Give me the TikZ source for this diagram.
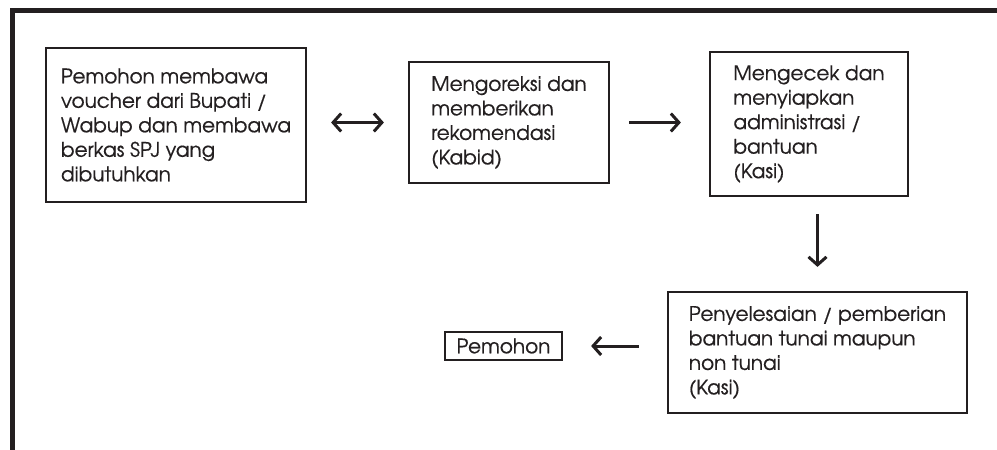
\documentclass[tikz,border=0pt]{standalone}
\usepackage{fontspec}
\setmainfont[FakeBold=0.5]{TeX Gyre Adventor}
\usetikzlibrary{arrows.meta}
\definecolor{ink}{HTML}{231F20}
\tikzset{ujung/.tip={Straight Barb[length=8pt,width=18pt]}}
\tikzstyle{kotak}=[draw=ink, line width=2.2pt, align=left, inner sep=0pt, text=ink, font=\fontsize{20}{24.5}\selectfont]
\tikzstyle{panah}=[line width=3pt, draw=ink, -ujung]

\begin{document}
\begin{tikzpicture}[x=1pt,y=-1pt]
\useasboundingbox (0,0) rectangle (997,450);
% bingkai luar
\draw[line width=5pt, ink, line join=miter] (997,10.5) -- (12.5,10.5) -- (12.5,450);
\node[kotak, minimum width=260pt, minimum height=154pt] (pemohon) at (176,125) {Pemohon membawa\\voucher dari Bupati /\\Wabup dan membawa\\berkas SPJ yang\\dibutuhkan};
\node[kotak, minimum width=200pt, minimum height=121pt] (kabid) at (509,122.5) {Mengoreksi dan\\memberikan\\rekomendasi\\(Kabid)};
\node[kotak, minimum width=198pt, minimum height=144pt] (kasi) at (809,124) {Mengecek dan\\menyiapkan\\administrasi /\\bantuan\\(Kasi)};
\node[kotak, minimum width=299pt, minimum height=121pt] (selesai) at (817.5,352.5) {Penyelesaian / pemberian\\bantuan tunai maupun\\non tunai\\(Kasi)};
\node[kotak, minimum width=117pt, minimum height=28pt] (hasil) at (503.5,346) {Pemohon};
\draw[panah, ujung-ujung, shorten <=24pt, shorten >=24pt] (pemohon.east |- kabid.west) -- (kabid.west);
\draw[panah, shorten <=19pt, shorten >=28pt] (kabid.east) -- (kabid.east -| kasi.west);
\draw[panah, shorten <=17pt, shorten >=24pt] (kasi.south -| selesai.north) -- (selesai.north);
\draw[panah, shorten <=28pt, shorten >=28pt] (selesai.west |- hasil.east) -- (hasil.east);
%\node at (500,430) {};
\end{tikzpicture}
\end{document}
